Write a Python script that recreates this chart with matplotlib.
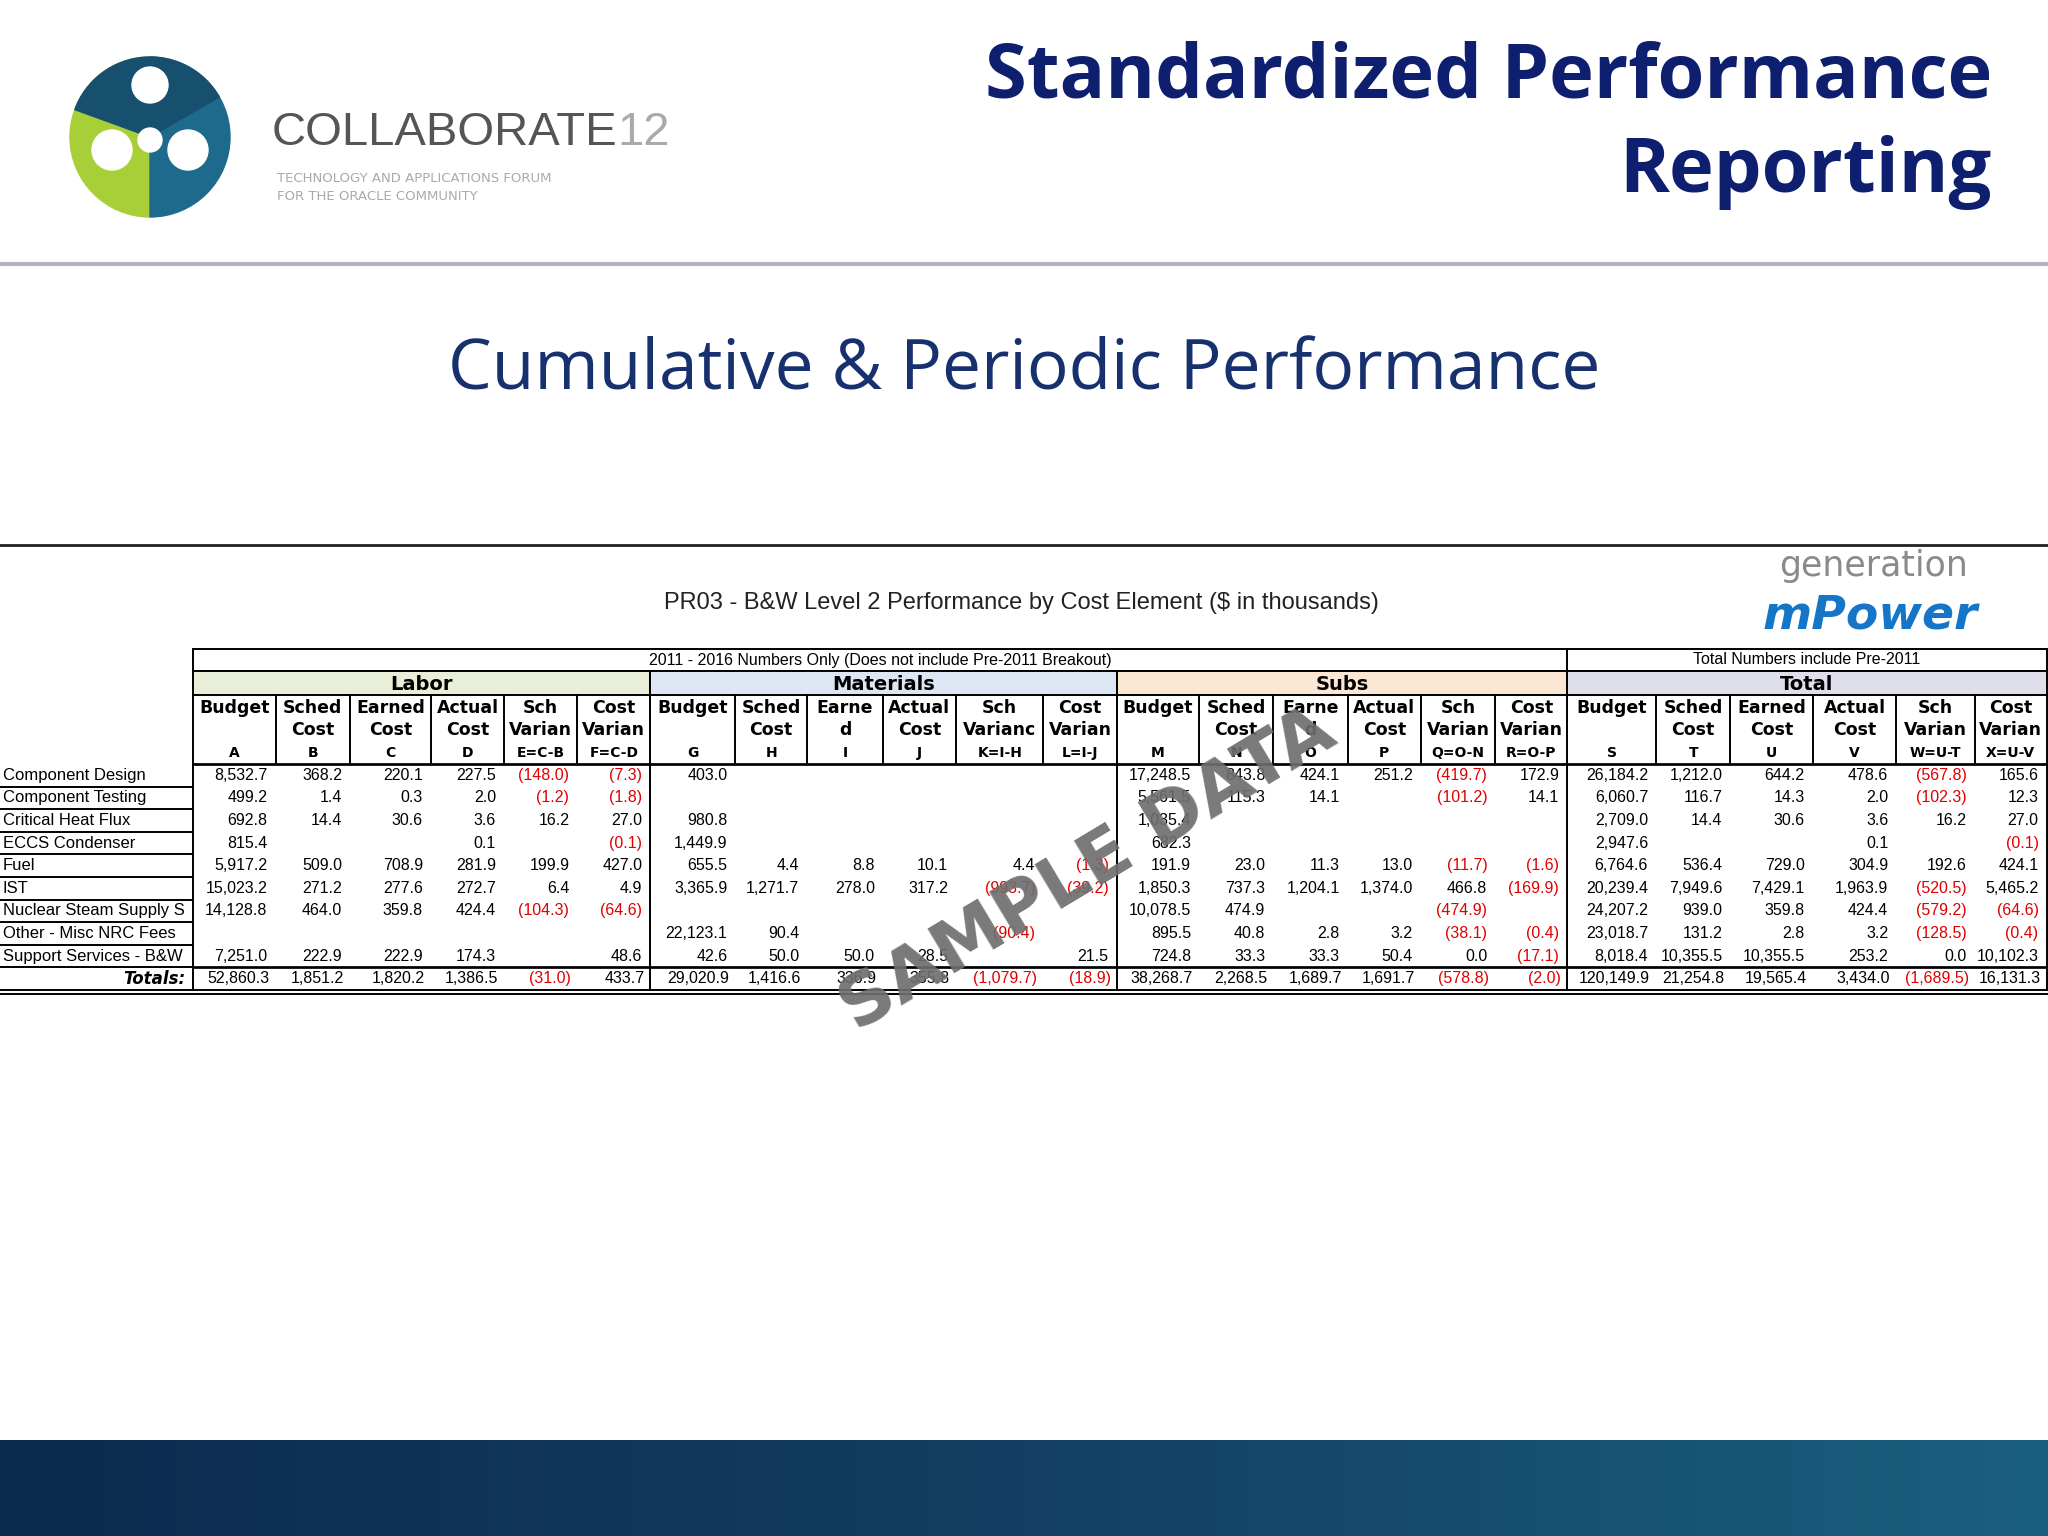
import numpy as np
import matplotlib.pyplot as plt
from matplotlib.patches import Rectangle, Circle, Wedge
from matplotlib.colors import LinearSegmentedColormap

# ---- table data (thousands of $) ----
rows = ['Component Design', 'Component Testing', 'Critical Heat Flux', 'ECCS Condenser',
        'Fuel', 'IST', 'Nuclear Steam Supply S', 'Other - Misc NRC Fees', 'Support Services - B&W']

labor = [
    [8532.7, 368.2, 220.1, 227.5, -148.0, -7.3],
    [499.2, 1.4, 0.3, 2.0, -1.2, -1.8],
    [692.8, 14.4, 30.6, 3.6, 16.2, 27.0],
    [815.4, None, None, 0.1, None, -0.1],
    [5917.2, 509.0, 708.9, 281.9, 199.9, 427.0],
    [15023.2, 271.2, 277.6, 272.7, 6.4, 4.9],
    [14128.8, 464.0, 359.8, 424.4, -104.3, -64.6],
    [None, None, None, None, None, None],
    [7251.0, 222.9, 222.9, 174.3, None, 48.6],
]
materials = [
    [403.0, None, None, None, None, None],
    [None, None, None, None, None, None],
    [980.8, None, None, None, None, None],
    [1449.9, None, None, None, None, None],
    [655.5, 4.4, 8.8, 10.1, 4.4, -1.3],
    [3365.9, 1271.7, 278.0, 317.2, -993.7, -39.2],
    [None, None, None, None, None, None],
    [22123.1, 90.4, None, None, -90.4, None],
    [42.6, 50.0, 50.0, 28.5, None, 21.5],
]
subs = [
    [17248.5, 843.8, 424.1, 251.2, -419.7, 172.9],
    [5561.5, 115.3, 14.1, None, -101.2, 14.1],
    [1035.4, None, None, None, None, None],
    [682.3, None, None, None, None, None],
    [191.9, 23.0, 11.3, 13.0, -11.7, -1.6],
    [1850.3, 737.3, 1204.1, 1374.0, 466.8, -169.9],
    [10078.5, 474.9, None, None, -474.9, None],
    [895.5, 40.8, 2.8, 3.2, -38.1, -0.4],
    [724.8, 33.3, 33.3, 50.4, 0.0, -17.1],
]
total = [
    [26184.2, 1212.0, 644.2, 478.6, -567.8, 165.6],
    [6060.7, 116.7, 14.3, 2.0, -102.3, 12.3],
    [2709.0, 14.4, 30.6, 3.6, 16.2, 27.0],
    [2947.6, None, None, 0.1, None, -0.1],
    [6764.6, 536.4, 729.0, 304.9, 192.6, 424.1],
    [20239.4, 7949.6, 7429.1, 1963.9, -520.5, 5465.2],
    [24207.2, 939.0, 359.8, 424.4, -579.2, -64.6],
    [23018.7, 131.2, 2.8, 3.2, -128.5, -0.4],
    [8018.4, 10355.5, 10355.5, 253.2, 0.0, 10102.3],
]
totals_row = [52860.3, 1851.2, 1820.2, 1386.5, -31.0, 433.7,
              29020.9, 1416.6, 336.9, 355.8, -1079.7, -18.9,
              38268.7, 2268.5, 1689.7, 1691.7, -578.8, -2.0,
              120149.9, 21254.8, 19565.4, 3434.0, -1689.5, 16131.3]

groups = ['Labor', 'Materials', 'Subs', 'Total']
group_colors = ['#e9eed8', '#dde7f3', '#fbe7d3', '#dedfea']
heads = [
    [('Budget', '', 'A'), ('Sched', 'Cost', 'B'), ('Earned', 'Cost', 'C'), ('Actual', 'Cost', 'D'), ('Sch', 'Varian', 'E=C-B'), ('Cost', 'Varian', 'F=C-D')],
    [('Budget', '', 'G'), ('Sched', 'Cost', 'H'), ('Earne', 'd', 'I'), ('Actual', 'Cost', 'J'), ('Sch', 'Varianc', 'K=I-H'), ('Cost', 'Varian', 'L=I-J')],
    [('Budget', '', 'M'), ('Sched', 'Cost', 'N'), ('Earne', 'd', 'O'), ('Actual', 'Cost', 'P'), ('Sch', 'Varian', 'Q=O-N'), ('Cost', 'Varian', 'R=O-P')],
    [('Budget', '', 'S'), ('Sched', 'Cost', 'T'), ('Earned', 'Cost', 'U'), ('Actual', 'Cost', 'V'), ('Sch', 'Varian', 'W=U-T'), ('Cost', 'Varian', 'X=U-V')],
]

# column edges in pixels
col_edges = np.array([148, 211, 268, 330, 386, 442, 498, 563, 618, 676, 732, 799, 855,
                      918, 975, 1032, 1088, 1145, 1200, 1268, 1325, 1388, 1452, 1512, 1567]) * 1.306

def fmt(v):
    if v is None:
        return '', 'black'
    if v < 0:
        return '({:,.1f})'.format(-v), '#e00000'
    return '{:,.1f}'.format(v), 'black'

fig = plt.figure(figsize=(20.48, 15.36), dpi=100)
ax = fig.add_axes([0, 0, 1, 1])
ax.set_xlim(0, 2048)
ax.set_ylim(1536, 0)
ax.axis('off')

# ---- header ----
ax.add_patch(Wedge((150, 137), 80, 90, 270, color='#a9cf38'))
ax.add_patch(Wedge((150, 137), 80, 270, 90, color='#1e6a8c'))
ax.add_patch(Wedge((150, 137), 80, 200, 330, color='#17506e'))
for cx, cy, r in [(150, 85, 18), (112, 150, 20), (188, 150, 20), (150, 140, 12)]:
    ax.add_patch(Circle((cx, cy), r, color='white'))
ax.text(272, 133, 'COLLABORATE', fontsize=34, color='#555555', va='center', family='Liberation Sans')
ax.text(617, 133, '12', fontsize=34, color='#aaaaaa', va='center', family='Liberation Sans')
ax.text(277, 178, 'TECHNOLOGY AND APPLICATIONS FORUM', fontsize=9.5, color='#aaaaaa', va='center')
ax.text(277, 196, 'FOR THE ORACLE COMMUNITY', fontsize=9.5, color='#aaaaaa', va='center')

navy = '#0d1f6e'
ax.text(1992, 78, 'Standardized Performance', fontsize=54.5, fontweight='bold', color=navy,
        ha='right', va='center', family='Open Sans')
ax.text(1992, 172, 'Reporting', fontsize=54.5, fontweight='bold', color=navy,
        ha='right', va='center', family='Open Sans')
ax.plot([0, 2048], [264, 264], color='#b4b4bc', lw=3)

ax.text(1024, 372, 'Cumulative & Periodic Performance', fontsize=50, color='#17306e',
        ha='center', va='center', family='Open Sans')
ax.plot([0, 2048], [545, 545], color='#222222', lw=2)

ax.text(1021, 603, 'PR03 - B&W Level 2 Performance by Cost Element ($ in thousands)',
        fontsize=17, ha='center', va='center', color='#222222', family='Liberation Sans')
ax.text(1874, 566, 'generation', fontsize=25, color='#8a8a8a', ha='center', va='center')
ax.text(1870, 616, 'mPower', fontsize=34, color='#1576c8', fontweight='bold', style='italic',
        ha='center', va='center')

# ---- table ----
tl, tr = col_edges[0], col_edges[-1]
y_top, y_grp, y_hdr, y_data = 649, 671, 695, 764
row_h = 22.6
y_tot = y_data + row_h * len(rows)
y_bot = y_tot + row_h

lw = 1.4
ax.add_patch(Rectangle((tl, y_top), tr - tl, y_grp - y_top, fill=False, lw=lw))
ax.text((tl + col_edges[18]) / 2, (y_top + y_grp) / 2,
        '2011 - 2016 Numbers Only (Does not include Pre-2011 Breakout)', fontsize=11.5,
        ha='center', va='center', family='Liberation Sans')
ax.text((col_edges[18] + tr) / 2, (y_top + y_grp) / 2, 'Total Numbers include Pre-2011',
        fontsize=11.5, ha='center', va='center', family='Liberation Sans')
ax.plot([col_edges[18]] * 2, [y_top, y_grp], color='black', lw=lw)

for g in range(4):
    x0, x1 = col_edges[g * 6], col_edges[g * 6 + 6]
    ax.add_patch(Rectangle((x0, y_grp), x1 - x0, y_hdr - y_grp, facecolor=group_colors[g],
                           edgecolor='black', lw=lw))
    ax.text((x0 + x1) / 2, (y_grp + y_hdr) / 2 + 1, groups[g], fontsize=14, fontweight='bold',
            ha='center', va='center')
    for c in range(6):
        i = g * 6 + c
        xc = (col_edges[i] + col_edges[i + 1]) / 2
        l1, l2, l3 = heads[g][c]
        ax.text(xc, 708, l1, fontsize=12.5, fontweight='bold', ha='center', va='center')
        ax.text(xc, 730, l2, fontsize=12.5, fontweight='bold', ha='center', va='center')
        ax.text(xc, 753, l3, fontsize=10, fontweight='bold', ha='center', va='center')

for x in col_edges:
    ax.plot([x, x], [y_hdr, y_data], color='black', lw=lw)
ax.plot([tl, tr], [y_data, y_data], color='black', lw=lw * 1.4)
for i in [0, 6, 12, 18, 24]:
    ax.plot([col_edges[i]] * 2, [y_data, y_bot], color='black', lw=lw)
ax.plot([tl, tr], [y_tot, y_tot], color='black', lw=lw * 1.4)
ax.plot([0, tr], [y_bot, y_bot], color='black', lw=lw)
ax.plot([0, tr], [y_bot + 3.5, y_bot + 3.5], color='black', lw=lw)

tables = [labor, materials, subs, total]
for r, name in enumerate(rows):
    yc = y_data + row_h * (r + 0.5)
    ax.text(3, yc, name, fontsize=12, ha='left', va='center', family='Liberation Sans')
    ax.plot([0, tl], [y_data + row_h * (r + 1)] * 2, color='black', lw=lw)
    for g in range(4):
        for c in range(6):
            i = g * 6 + c
            s, col = fmt(tables[g][r][c])
            ax.text(col_edges[i + 1] - 8, yc, s, fontsize=11.5, color=col, ha='right',
                    va='center', family='Liberation Sans')

yc = y_tot + row_h / 2
ax.text(tl - 8, yc, 'Totals:', fontsize=12, fontweight='bold', style='italic', ha='right', va='center')
for i, v in enumerate(totals_row):
    s, col = fmt(v)
    ax.text(col_edges[i + 1] - 6, yc, s, fontsize=11.5, color=col, ha='right', va='center',
            family='Liberation Sans')

# watermark
ax.text(1088, 870, 'SAMPLE DATA', fontsize=52, fontweight='bold', color='#6e6e6e', alpha=0.92,
        rotation=31, ha='center', va='center', family='DejaVu Sans')

# bottom band
grad = np.linspace(0, 1, 256).reshape(1, -1)
cmap = LinearSegmentedColormap.from_list('band', ['#0c2a4e', '#123f63', '#1b5f80'])
ax.imshow(grad, cmap=cmap, extent=[0, 2048, 1536, 1440], aspect='auto', zorder=0)
ax.set_xlim(0, 2048)
ax.set_ylim(1536, 0)

fig.savefig('out.png', dpi=100)
